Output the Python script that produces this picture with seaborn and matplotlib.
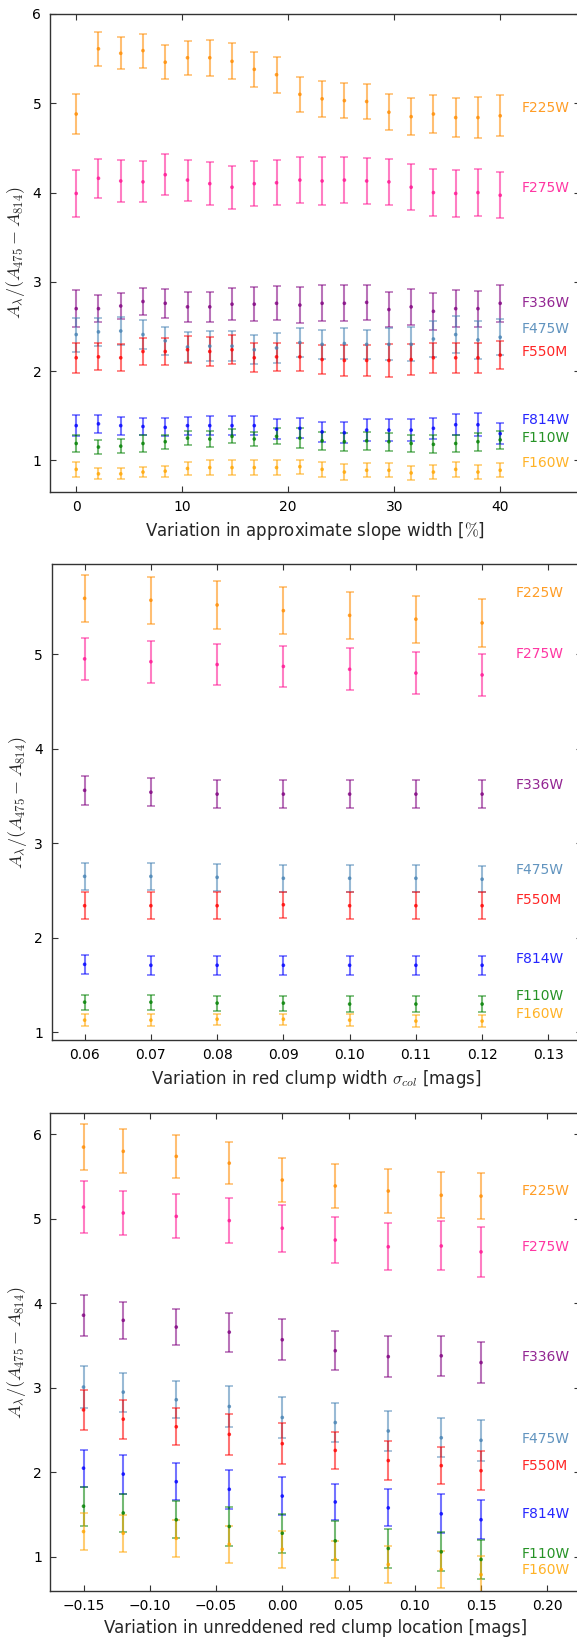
import matplotlib
matplotlib.use("Agg")
import matplotlib.pyplot as plt
import seaborn as sns
import pandas as pd

# ---------------- data ----------------
filters = ["F225W", "F275W", "F336W", "F475W", "F550M", "F814W", "F110W", "F160W"]
colors = ["#ff8c00", "#ff1493", "#800080", "#4682b4", "#ff0000", "#0000ff", "#008000", "#ffa500"]

# Panel 1: variation in approximate slope width [%]
slope_x = [0.0, 2.1, 4.2, 6.3, 8.4, 10.5, 12.6, 14.7, 16.8, 18.9,
           21.1, 23.2, 25.3, 27.4, 29.5, 31.6, 33.7, 35.8, 37.9, 40.0]
slope_F225W = [4.88, 5.61, 5.56, 5.59, 5.46, 5.51, 5.51, 5.47, 5.38, 5.32, 5.10, 5.05, 5.03, 5.02, 4.90, 4.85, 4.88, 4.84, 4.84, 4.86]
slope_F225W_err = [0.22, 0.19, 0.18, 0.19, 0.19, 0.19, 0.20, 0.20, 0.20, 0.20, 0.20, 0.20, 0.20, 0.20, 0.20, 0.21, 0.21, 0.22, 0.23, 0.23]
slope_F275W = [3.99, 4.16, 4.13, 4.12, 4.20, 4.14, 4.10, 4.06, 4.10, 4.11, 4.14, 4.13, 4.14, 4.13, 4.12, 4.06, 4.00, 3.99, 4.00, 3.97]
slope_F275W_err = [0.26, 0.22, 0.23, 0.23, 0.23, 0.23, 0.24, 0.24, 0.25, 0.25, 0.26, 0.27, 0.26, 0.26, 0.26, 0.26, 0.26, 0.26, 0.26, 0.26]
slope_F336W = [2.70, 2.70, 2.73, 2.78, 2.76, 2.72, 2.72, 2.75, 2.75, 2.76, 2.74, 2.76, 2.76, 2.77, 2.69, 2.72, 2.67, 2.70, 2.70, 2.76]
slope_F336W_err = [0.21, 0.15, 0.15, 0.15, 0.16, 0.17, 0.17, 0.18, 0.19, 0.19, 0.20, 0.20, 0.20, 0.20, 0.20, 0.20, 0.21, 0.21, 0.20, 0.21]
slope_F475W = [2.41, 2.44, 2.45, 2.41, 2.34, 2.27, 2.28, 2.28, 2.24, 2.26, 2.32, 2.30, 2.31, 2.30, 2.30, 2.30, 2.36, 2.41, 2.35, 2.38]
slope_F475W_err = [0.19, 0.16, 0.16, 0.16, 0.16, 0.17, 0.17, 0.17, 0.16, 0.17, 0.16, 0.16, 0.17, 0.16, 0.18, 0.19, 0.20, 0.21, 0.21, 0.20]
slope_F550M = [2.15, 2.16, 2.15, 2.22, 2.22, 2.24, 2.22, 2.24, 2.15, 2.16, 2.16, 2.13, 2.12, 2.12, 2.12, 2.13, 2.15, 2.15, 2.15, 2.18]
slope_F550M_err = [0.17, 0.15, 0.15, 0.15, 0.15, 0.15, 0.16, 0.16, 0.16, 0.16, 0.16, 0.16, 0.17, 0.17, 0.18, 0.17, 0.17, 0.17, 0.17, 0.16]
slope_F814W = [1.39, 1.41, 1.39, 1.38, 1.37, 1.39, 1.39, 1.39, 1.39, 1.35, 1.36, 1.32, 1.31, 1.34, 1.34, 1.34, 1.36, 1.40, 1.40, 1.30]
slope_F814W_err = [0.12, 0.10, 0.10, 0.10, 0.10, 0.10, 0.11, 0.11, 0.11, 0.11, 0.11, 0.11, 0.12, 0.12, 0.12, 0.12, 0.12, 0.12, 0.13, 0.12]
slope_F110W = [1.19, 1.15, 1.16, 1.19, 1.21, 1.25, 1.24, 1.27, 1.24, 1.27, 1.25, 1.22, 1.21, 1.22, 1.21, 1.19, 1.18, 1.19, 1.21, 1.23]
slope_F110W_err = [0.09, 0.08, 0.08, 0.09, 0.08, 0.08, 0.09, 0.08, 0.08, 0.09, 0.11, 0.10, 0.10, 0.10, 0.10, 0.10, 0.10, 0.10, 0.10, 0.10]
slope_F160W = [0.90, 0.85, 0.85, 0.87, 0.88, 0.91, 0.92, 0.92, 0.92, 0.92, 0.93, 0.90, 0.87, 0.89, 0.89, 0.86, 0.87, 0.90, 0.87, 0.89]
slope_F160W_err = [0.08, 0.06, 0.06, 0.06, 0.06, 0.07, 0.08, 0.08, 0.08, 0.08, 0.08, 0.08, 0.09, 0.08, 0.08, 0.08, 0.08, 0.08, 0.08, 0.08]

# Panel 2: variation in red clump width sigma_col [mags]
width_x = [0.06, 0.07, 0.08, 0.09, 0.10, 0.11, 0.12]
width_F225W = [5.59, 5.57, 5.52, 5.46, 5.41, 5.37, 5.33]
width_F225W_err = [0.25, 0.25, 0.25, 0.25, 0.25, 0.25, 0.25]
width_F275W = [4.95, 4.92, 4.89, 4.87, 4.84, 4.80, 4.78]
width_F275W_err = [0.22, 0.22, 0.22, 0.22, 0.22, 0.22, 0.22]
width_F336W = [3.56, 3.54, 3.52, 3.52, 3.52, 3.52, 3.52]
width_F336W_err = [0.15, 0.15, 0.15, 0.15, 0.15, 0.15, 0.15]
width_F475W = [2.65, 2.65, 2.64, 2.63, 2.63, 2.63, 2.62]
width_F475W_err = [0.14, 0.14, 0.14, 0.14, 0.14, 0.14, 0.14]
width_F550M = [2.34, 2.34, 2.34, 2.35, 2.34, 2.34, 2.34]
width_F550M_err = [0.14, 0.14, 0.14, 0.14, 0.14, 0.14, 0.14]
width_F814W = [1.72, 1.71, 1.71, 1.71, 1.71, 1.71, 1.71]
width_F814W_err = [0.10, 0.10, 0.10, 0.10, 0.10, 0.10, 0.10]
width_F110W = [1.32, 1.32, 1.31, 1.31, 1.30, 1.30, 1.30]
width_F110W_err = [0.08, 0.08, 0.08, 0.08, 0.08, 0.08, 0.08]
width_F160W = [1.13, 1.13, 1.14, 1.14, 1.13, 1.12, 1.12]
width_F160W_err = [0.06, 0.06, 0.06, 0.06, 0.06, 0.065, 0.065]

# Panel 3: variation in unreddened red clump location [mags]
loc_x = [-0.15, -0.12, -0.08, -0.04, 0.0, 0.04, 0.08, 0.12, 0.15]
loc_F225W = [5.85, 5.80, 5.74, 5.66, 5.46, 5.39, 5.33, 5.28, 5.27]
loc_F225W_err = [0.27, 0.26, 0.25, 0.25, 0.26, 0.26, 0.26, 0.27, 0.27]
loc_F275W = [5.14, 5.07, 5.03, 4.98, 4.89, 4.75, 4.67, 4.68, 4.61]
loc_F275W_err = [0.31, 0.26, 0.26, 0.27, 0.28, 0.27, 0.28, 0.29, 0.30]
loc_F336W = [3.86, 3.80, 3.72, 3.66, 3.57, 3.44, 3.37, 3.38, 3.30]
loc_F336W_err = [0.24, 0.22, 0.21, 0.23, 0.24, 0.23, 0.24, 0.24, 0.24]
loc_F475W = [3.01, 2.95, 2.86, 2.78, 2.65, 2.59, 2.49, 2.41, 2.38]
loc_F475W_err = [0.25, 0.23, 0.22, 0.24, 0.24, 0.23, 0.24, 0.23, 0.24]
loc_F550M = [2.74, 2.63, 2.54, 2.45, 2.34, 2.26, 2.14, 2.08, 2.02]
loc_F550M_err = [0.24, 0.23, 0.22, 0.24, 0.24, 0.22, 0.23, 0.22, 0.23]
loc_F814W = [2.05, 1.98, 1.89, 1.80, 1.72, 1.65, 1.58, 1.51, 1.44]
loc_F814W_err = [0.22, 0.23, 0.22, 0.23, 0.23, 0.21, 0.22, 0.23, 0.23]
loc_F110W = [1.60, 1.52, 1.44, 1.36, 1.28, 1.19, 1.10, 1.06, 0.97]
loc_F110W_err = [0.23, 0.23, 0.22, 0.23, 0.23, 0.23, 0.23, 0.23, 0.23]
loc_F160W = [1.30, 1.28, 1.22, 1.15, 1.09, 0.97, 0.91, 0.85, 0.79]
loc_F160W_err = [0.22, 0.22, 0.22, 0.22, 0.22, 0.22, 0.22, 0.22, 0.22]

# label positions (data coords)
label_x = [42.0, 0.125, 0.181]
label_y_slope = [4.95, 4.05, 2.76, 2.47, 2.21, 1.45, 1.25, 0.97]
label_y_width = [5.65, 5.00, 3.62, 2.72, 2.40, 1.78, 1.38, 1.19]
label_y_loc = [5.33, 4.67, 3.37, 2.39, 2.08, 1.51, 1.04, 0.85]

xlabels = ["Variation in approximate slope width [$\\%$]",
           "Variation in red clump width $\\sigma_{col}$ [mags]",
           "Variation in unreddened red clump location [mags]"]
ylabel = "$A_\\lambda/(A_{475}-A_{814})$"

# ---------------- style ----------------
sns.set_style("ticks")
plt.rcParams["font.family"] = ["DejaVu Sans"]
plt.rcParams["mathtext.fontset"] = "cm"
plt.rcParams["axes.edgecolor"] = "#333333"
plt.rcParams["axes.linewidth"] = 1.0

def build(x, vals, errs):
    rows = []
    for f, v, e in zip(filters, vals, errs):
        for xi, vi, ei in zip(x, v, e):
            rows.append({"x": xi, "y": vi, "err": ei, "filter": f})
    return pd.DataFrame(rows)

panels = [
    (slope_x,
     [slope_F225W, slope_F275W, slope_F336W, slope_F475W, slope_F550M, slope_F814W, slope_F110W, slope_F160W],
     [slope_F225W_err, slope_F275W_err, slope_F336W_err, slope_F475W_err, slope_F550M_err, slope_F814W_err, slope_F110W_err, slope_F160W_err],
     label_y_slope),
    (width_x,
     [width_F225W, width_F275W, width_F336W, width_F475W, width_F550M, width_F814W, width_F110W, width_F160W],
     [width_F225W_err, width_F275W_err, width_F336W_err, width_F475W_err, width_F550M_err, width_F814W_err, width_F110W_err, width_F160W_err],
     label_y_width),
    (loc_x,
     [loc_F225W, loc_F275W, loc_F336W, loc_F475W, loc_F550M, loc_F814W, loc_F110W, loc_F160W],
     [loc_F225W_err, loc_F275W_err, loc_F336W_err, loc_F475W_err, loc_F550M_err, loc_F814W_err, loc_F110W_err, loc_F160W_err],
     label_y_loc),
]

W, H = 577, 1641
fig = plt.figure(figsize=(W / 100, H / 100), dpi=100)

# axes rectangles in pixels: left, top, bottom
rects = [(49.7, 14.0, 491.7), (51.5, 564.3, 1040.0), (50.4, 1113.3, 1590.7)]
axw = 530.0
xlims = [(-2.5, 47.5), (0.055, 0.135), (-0.175, 0.225)]
ylims = [(0.65, 6.0), (0.92, 5.95), (0.6, 6.25)]
xticks = [[0, 10, 20, 30, 40], [0.06, 0.07, 0.08, 0.09, 0.10, 0.11, 0.12, 0.13],
          [-0.15, -0.10, -0.05, 0.0, 0.05, 0.10, 0.15, 0.20]]
yticks = [[1, 2, 3, 4, 5, 6], [1, 2, 3, 4, 5], [1, 2, 3, 4, 5, 6]]
xfmt = ["{:.0f}", "{:.2f}", "{:.2f}"]

palette = dict(zip(filters, colors))

for i, (x, vals, errs, ly) in enumerate(panels):
    l, t, b = rects[i]
    ax = fig.add_axes([l / W, 1 - b / H, axw / W, (b - t) / H])
    df = build(x, vals, errs)
    for f in filters:
        sub = df[df["filter"] == f]
        ax.errorbar(sub["x"], sub["y"], yerr=sub["err"], fmt="none",
                    ecolor=palette[f], elinewidth=1.5, capsize=3, capthick=1.2,
                    alpha=0.55, zorder=2)
    sns.scatterplot(data=df, x="x", y="y", hue="filter", palette=palette,
                    hue_order=filters, marker="o", s=7, linewidth=0,
                    alpha=0.8, legend=False, ax=ax, zorder=3)
    for f, c, yy in zip(filters, colors, ly):
        ax.text(label_x[i], yy, f, color=c, fontsize=10, ha="left", va="center", alpha=0.85)
    ax.set_xlim(*xlims[i])
    ax.set_ylim(*ylims[i])
    ax.set_xticks(xticks[i])
    ax.set_xticklabels([xfmt[i].format(v).replace("-", "\u2212") for v in xticks[i]])
    ax.set_yticks(yticks[i])
    ax.set_yticklabels([str(v) for v in yticks[i]])
    ax.tick_params(direction="in", top=True, right=True, length=4, width=0.8,
                   labelsize=10, pad=6, colors="#333333", labelcolor="black")
    ax.set_xlabel(xlabels[i], fontsize=12, labelpad=4)
    ax.set_ylabel(ylabel, fontsize=13, labelpad=4)
    for s in ax.spines.values():
        s.set_visible(True)

fig.savefig("out.png", dpi=100)
